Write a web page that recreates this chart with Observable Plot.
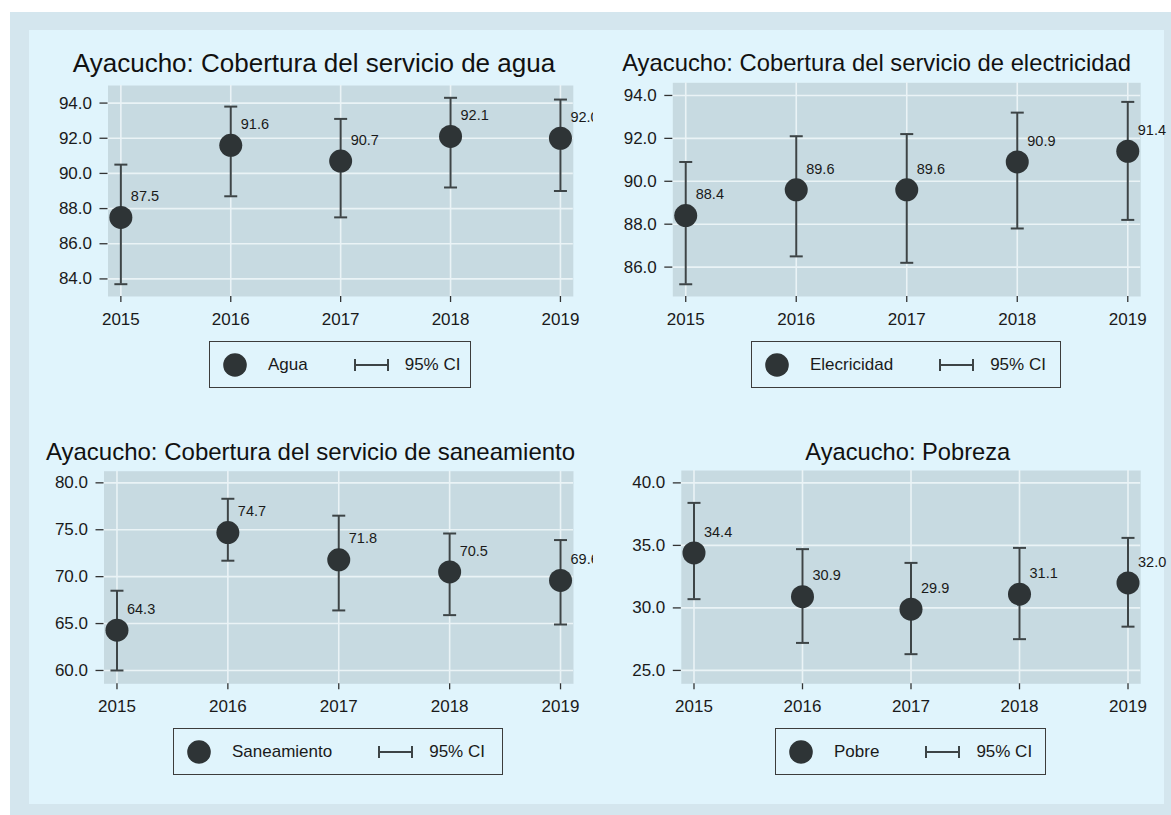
<!DOCTYPE html>
<html>
<head>
<meta charset="utf-8">
<script src="https://cdn.jsdelivr.net/npm/d3@7"></script>
<script src="https://cdn.jsdelivr.net/npm/@observablehq/plot@0.6"></script>
<style>
  html, body { margin: 0; padding: 0; background: #ffffff; }
  body { width: 1171px; height: 815px; position: relative; overflow: hidden;
         font-family: "Liberation Sans", Arial, sans-serif; color: #1a1a1a; }
  .outer { position: absolute; left: 10px; top: 12px; width: 1161px; height: 803px; background: #d4e6ee; }
  .inner { position: absolute; left: 29px; top: 30px; width: 1135px; height: 774px; background: #e0f4fc; }
  .panel { position: absolute; }
  .panel.clip svg { overflow: hidden; }
  .panel.free svg { overflow: visible; }
  .title { position: absolute; white-space: nowrap; transform: translate(-50%, -50%); line-height: 1; color: #111; }
  .legend { position: absolute; box-sizing: border-box; border: 1.5px solid #3c3c3c; display: flex;
            align-items: center; padding-left: 12px; font-size: 17px; color: #1a1a1a; }
  .legend svg { display: block; flex: none; }
</style>
</head>
<body>
<div class="outer"></div>
<div class="inner"></div>
<div id="root"></div>
<script>
// ---- data ----
const years = [2015, 2016, 2017, 2018, 2019];

const aguaEst = [87.5, 91.6, 90.7, 92.1, 92.0];
const aguaLo  = [83.7, 88.7, 87.5, 89.2, 89.0];
const aguaHi  = [90.5, 93.8, 93.1, 94.3, 94.2];

const elecEst = [88.4, 89.6, 89.6, 90.9, 91.4];
const elecLo  = [85.2, 86.5, 86.2, 87.8, 88.2];
const elecHi  = [90.9, 92.1, 92.2, 93.2, 93.7];

const saneEst = [64.3, 74.7, 71.8, 70.5, 69.6];
const saneLo  = [60.0, 71.7, 66.4, 65.9, 64.9];
const saneHi  = [68.5, 78.3, 76.5, 74.6, 73.9];

const pobreEst = [34.4, 30.9, 29.9, 31.1, 32.0];
const pobreLo  = [30.7, 27.2, 26.3, 27.5, 28.5];
const pobreHi  = [38.4, 34.7, 33.6, 34.8, 35.6];

const aguaTicks  = [84, 86, 88, 90, 92, 94];
const elecTicks  = [86, 88, 90, 92, 94];
const saneTicks  = [60, 65, 70, 75, 80];
const pobreTicks = [25, 30, 35, 40];

const titles = [
  "Ayacucho: Cobertura del servicio de agua",
  "Ayacucho: Cobertura del servicio de electricidad",
  "Ayacucho: Cobertura del servicio de saneamiento",
  "Ayacucho: Pobreza"
];
const legendLabels = ["Agua", "Elecricidad", "Saneamiento", "Pobre"];
const ciLabel = "95% CI";

// ---- helpers ----
const rows = (est, lo, hi) => years.map((year, i) => ({ year, est: est[i], lo: lo[i], hi: hi[i] }));

const capSymbol = {
  draw(ctx, size) {
    const r = Math.sqrt(size / Math.PI);
    ctx.moveTo(-r, 0);
    ctx.lineTo(r, 0);
  }
};

const DOT = "#2e3436";
const BAR = "#3d4446";
const PLOTBG = "#c7dae1";
const GRID = "#eaf3f6";

const root = document.getElementById("root");

function panel(cfg) {
  const data = rows(cfg.est, cfg.lo, cfg.hi);
  const chart = Plot.plot({
    width: cfg.width,
    height: cfg.height,
    marginLeft: cfg.mL, marginRight: cfg.mR, marginTop: cfg.mT, marginBottom: cfg.mB,
    style: { background: "transparent", fontFamily: "'Liberation Sans', Arial, sans-serif", fontSize: "17px", color: "#1a1a1a" },
    x: { type: "linear", domain: [2014.883, 2019.117], axis: null, label: null },
    y: { type: "linear", domain: cfg.domain, axis: null, label: null },
    marks: [
      Plot.frame({ fill: PLOTBG, stroke: "none" }),
      Plot.gridY(cfg.ticks, { stroke: GRID, strokeOpacity: 1, strokeWidth: 1.6 }),
      Plot.gridX(years, { stroke: GRID, strokeOpacity: 1, strokeWidth: 1.6 }),
      Plot.axisY(cfg.ticks, { label: null, tickSize: 8, tickPadding: 8, tickFormat: d => d.toFixed(1), fontSize: 17, stroke: "#333", strokeWidth: 1.3 }),
      Plot.axisX(years, { label: null, tickSize: 6, tickPadding: 10, tickFormat: d => String(d), fontSize: 17, stroke: "#333", strokeWidth: 1.3 }),
      Plot.ruleX(data, { x: "year", y1: "lo", y2: "hi", stroke: BAR, strokeWidth: 2 }),
      Plot.dot(data, { x: "year", y: "lo", symbol: capSymbol, r: 6.5, stroke: BAR, strokeWidth: 2, fill: "none" }),
      Plot.dot(data, { x: "year", y: "hi", symbol: capSymbol, r: 6.5, stroke: BAR, strokeWidth: 2, fill: "none" }),
      Plot.dot(data, { x: "year", y: "est", r: 11.5, fill: DOT, stroke: "none" }),
      Plot.text(data, { x: "year", y: "est", text: d => d.est.toFixed(1), dx: 10, dy: -21, textAnchor: "start", fontSize: 14.5, fill: "#1a1a1a" })
    ]
  });
  const wrap = document.createElement("div");
  wrap.className = "panel " + (cfg.clip ? "clip" : "free");
  wrap.style.left = cfg.left + "px";
  wrap.style.top = cfg.top + "px";
  wrap.appendChild(chart);
  root.appendChild(wrap);

  const t = document.createElement("div");
  t.className = "title";
  t.textContent = cfg.title;
  t.style.left = cfg.tx + "px";
  t.style.top = cfg.ty + "px";
  t.style.fontSize = cfg.tsize + "px";
  root.appendChild(t);

  const lg = document.createElement("div");
  lg.className = "legend";
  lg.style.left = cfg.lx + "px";
  lg.style.top = cfg.ly + "px";
  lg.style.width = cfg.lw + "px";
  lg.style.height = "47px";
  lg.innerHTML =
    `<svg width="26" height="26"><circle cx="13" cy="13" r="11.8" fill="${DOT}"/></svg>` +
    `<span style="margin-left:20px">${cfg.legend}</span>` +
    `<svg width="35" height="14" style="margin-left:46px"><path d="M1,1V13M34,1V13M1,7H34" stroke="${BAR}" stroke-width="2" fill="none"/></svg>` +
    `<span style="margin-left:16px">${ciLabel}</span>`;
  root.appendChild(lg);
}

panel({ est: aguaEst, lo: aguaLo, hi: aguaHi, ticks: aguaTicks, domain: [83.0, 95.0], clip: true,
  left: 29, top: 40, width: 564, height: 300, mL: 78.5, mR: 20.2, mT: 45, mB: 44,
  title: titles[0], tx: 314, ty: 63, tsize: 26,
  legend: legendLabels[0], lx: 209, ly: 341, lw: 262 });

panel({ est: elecEst, lo: elecLo, hi: elecHi, ticks: elecTicks, domain: [84.63, 94.59], clip: false,
  left: 594, top: 40, width: 570, height: 300, mL: 78.3, mR: 23.8, mT: 42.3, mB: 44,
  title: titles[1], tx: 876.6, ty: 63, tsize: 23.8,
  legend: legendLabels[1], lx: 751, ly: 341, lw: 310 });

panel({ est: saneEst, lo: saneLo, hi: saneHi, ticks: saneTicks, domain: [58.58, 81.24], clip: true,
  left: 29, top: 430, width: 564, height: 300, mL: 74.5, mR: 20, mT: 40.7, mB: 46.7,
  title: titles[2], tx: 310.5, ty: 452, tsize: 24,
  legend: legendLabels[2], lx: 173, ly: 728, lw: 330 });

panel({ est: pobreEst, lo: pobreLo, hi: pobreHi, ticks: pobreTicks, domain: [23.93, 40.99], clip: false,
  left: 594, top: 430, width: 570, height: 300, mL: 86.8, mR: 23.8, mT: 40, mB: 46.7,
  title: titles[3], tx: 907.8, ty: 453, tsize: 23.7,
  legend: legendLabels[3], lx: 775, ly: 728, lw: 271 });
</script>
</body>
</html>
